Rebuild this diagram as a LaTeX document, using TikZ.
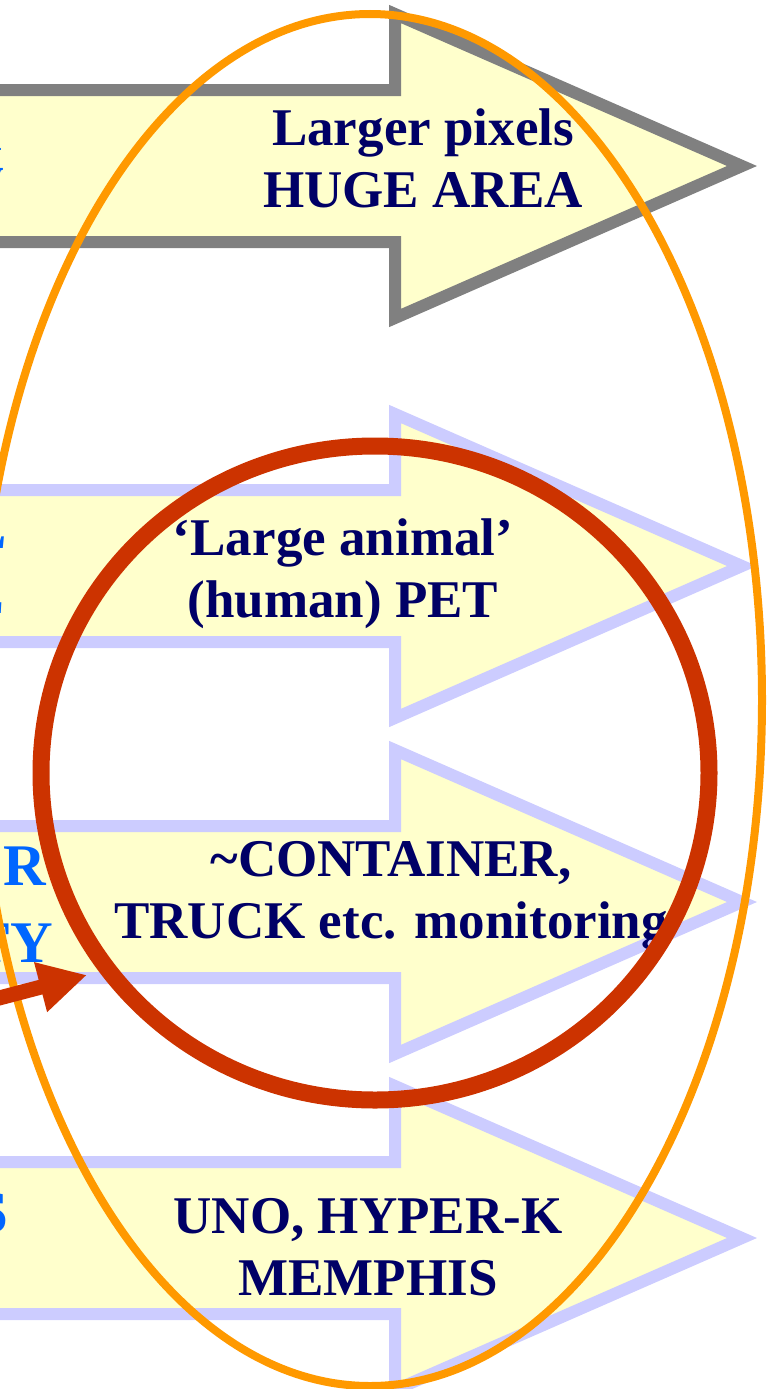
\documentclass[tikz,border=0pt]{standalone}
\usepackage{fontspec}
\setmainfont{Liberation Serif}
\usetikzlibrary{arrows.meta}
\definecolor{paleyellow}{RGB}{255,255,204}
\definecolor{greyedge}{RGB}{128,128,128}
\definecolor{lavender}{RGB}{204,204,255}
\definecolor{navytext}{RGB}{0,0,102}
\definecolor{bluetext}{RGB}{0,102,255}
\definecolor{orangering}{RGB}{255,153,0}
\definecolor{redring}{RGB}{204,51,0}
\tikzset{
  fatarrow/.style={fill=paleyellow, line width=12pt, miter limit=10, line join=miter},
  label/.style={font=\fontsize{53}{62}\selectfont\bfseries, text=navytext, align=center, inner sep=0pt},
  sidetext/.style={font=\fontsize{59}{72}\selectfont\bfseries, text=bluetext, inner sep=0pt, anchor=base east},
  orangeloop/.style={draw=orangering, line width=8pt},
  redloop/.style={draw=redring, line width=17pt},
  redpointer/.style={draw=redring, line width=15pt, -{Triangle[length=48pt,width=48pt]}},
}
% block arrow along a centre line at height #1
\newcommand{\blockarrow}[2]{%
  \draw[fatarrow, draw=#2] (-30,#1-76) -- (395,#1-76) -- (395,#1-152) -- (742,#1)
    -- (395,#1+152) -- (395,#1+76) -- (-30,#1+76) -- cycle;}
\begin{document}
\begin{tikzpicture}[x=1pt,y=-1pt]
\useasboundingbox (0,0) rectangle (766,1389);
\clip (0,0) rectangle (766,1389);

% the four block arrows
\blockarrow{166}{greyedge}
\blockarrow{566}{lavender}
\blockarrow{902}{lavender}
\blockarrow{1238}{lavender}

% texts inside the arrows
\node[label] (huge) at (423,158) {Larger pixels\\HUGE AREA};
\node[label] (pet) at (343,574) {‘Large animal’\\(human) PET};
\node[label] (truck) at (391,896) {\textasciitilde CONTAINER,\\TRUCK etc. monitoring};
\node[label] (uno) at (368,1247) {UNO, HYPER-K\\MEMPHIS};

% ends of the texts on the left
\node[sidetext] (s1a) at (3,150) {n};
\node[sidetext] (s1b) at (4,195) {y};
\node[sidetext] (s2a) at (7,548) {L};
\node[sidetext] (s2b) at (5,613) {E};
\node[sidetext] (s3a) at (46,885) {R};
\node[sidetext] (s3b) at (53,962) {TY};
\node[sidetext] (s4a) at (9,1232) {S};

% rings
\draw[orangeloop] (370,700) ellipse [x radius=392pt, y radius=686pt];
\draw[redloop] (375,773) ellipse [x radius=334pt, y radius=327pt];

% pointer
\coordinate (ptail) at (-20,1003);
\coordinate (phead) at (87,975);
\draw[redpointer] (ptail) -- (phead);
\end{tikzpicture}
\end{document}
